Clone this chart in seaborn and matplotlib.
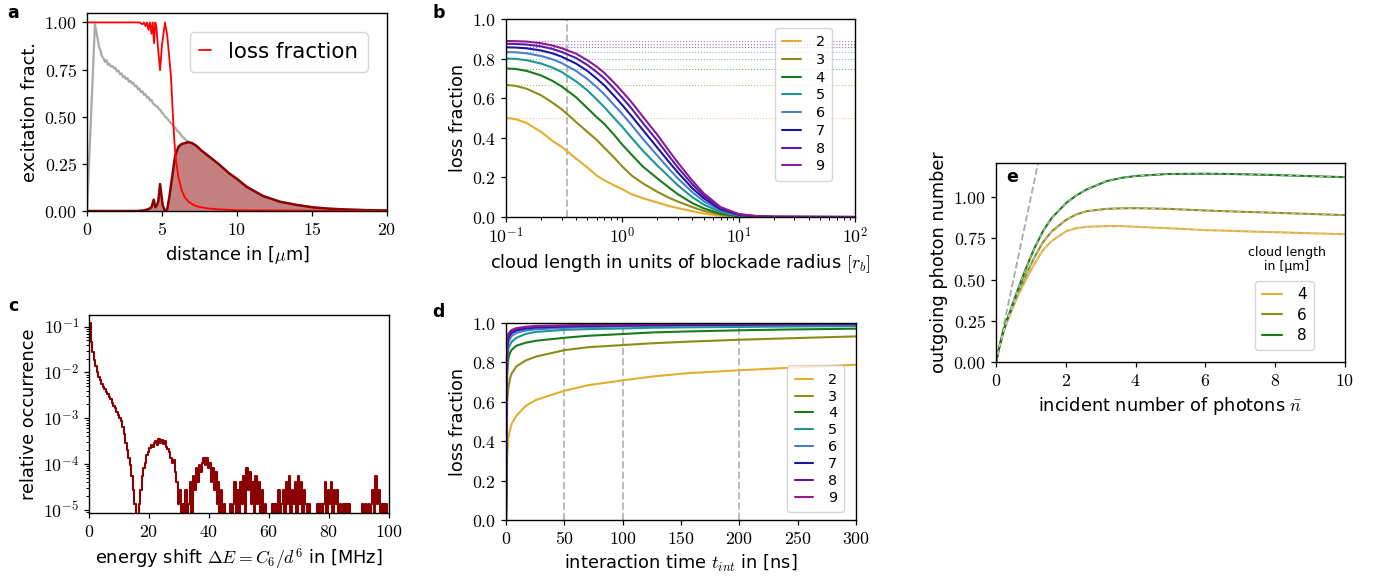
import numpy as np
import pandas as pd
import matplotlib
matplotlib.use("Agg")
import matplotlib.pyplot as plt
from matplotlib.ticker import FuncFormatter, FixedLocator, LogLocator, NullFormatter
import seaborn as sns

# ---------------- panel a: excitation / loss vs distance ----------------
grey_dist = [0, 0.53, 0.6, 0.7, 0.8, 0.9, 1.0, 1.1, 1.2, 1.3, 1.4, 1.5, 1.6, 1.7, 1.8,
             1.9, 2.0, 2.1, 2.2, 2.3, 2.4, 2.5, 2.6, 2.7, 2.8, 2.9, 3.0, 3.1, 3.2, 3.3,
             3.4, 3.5, 3.6, 3.7, 3.8, 3.9, 4.0, 4.1, 4.2, 4.3, 4.4, 4.5, 4.6, 4.7, 4.8,
             4.9, 5.0, 5.1, 5.2, 5.3, 5.4, 5.5, 5.6, 5.7, 5.8, 5.9, 6.0, 6.1, 6.2, 6.3,
             6.4, 6.5, 6.6, 6.8, 7.0, 7.3, 7.64, 8.2, 8.76, 9.5, 10.0, 10.65, 11.75,
             12.87, 13.98, 15.09, 16.2, 17.3, 18.4, 20.0]
grey_frac = [0, 0.99, 0.96, 0.92, 0.87, 0.85, 0.82, 0.81, 0.79, 0.80, 0.775, 0.78,
             0.765, 0.77, 0.755, 0.76, 0.74, 0.745, 0.725, 0.73, 0.71, 0.715, 0.70,
             0.705, 0.685, 0.69, 0.675, 0.68, 0.66, 0.665, 0.645, 0.65, 0.63, 0.635,
             0.615, 0.62, 0.60, 0.605, 0.585, 0.59, 0.57, 0.565, 0.555, 0.555, 0.54,
             0.535, 0.52, 0.515, 0.50, 0.495, 0.485, 0.475, 0.465, 0.46, 0.445, 0.44,
             0.425, 0.42, 0.41, 0.40, 0.39, 0.385, 0.375, 0.365, 0.355, 0.343, 0.32,
             0.285, 0.25, 0.198, 0.17, 0.128, 0.079, 0.049, 0.032, 0.019, 0.012,
             0.008, 0.005, 0.003]

loss_dist = [0, 3.5, 3.7, 3.8, 3.9, 4.0, 4.1, 4.2, 4.3, 4.38, 4.47, 4.55, 4.62, 4.75,
             4.87, 5.0, 5.2, 5.35, 5.5, 5.6, 5.7, 5.8, 5.9, 6.09, 6.31, 6.5, 6.76,
             7.1, 7.4, 8.0, 8.76, 10.0, 20.0]
loss_frac = [1.0, 1.0, 0.99, 1.0, 0.98, 1.0, 0.96, 1.0, 0.94, 1.0, 0.89, 1.0, 0.98,
             0.85, 0.746, 0.88, 1.0, 0.93, 0.8, 0.71, 0.55, 0.40, 0.29, 0.18, 0.11,
             0.075, 0.05, 0.032, 0.023, 0.014, 0.009, 0.004, 0.0]

kept_dist = [0, 3.3, 3.8, 4.1, 4.3, 4.45, 4.55, 4.65, 4.75, 4.87, 5.05, 5.2, 5.35,
             5.5, 5.64, 5.87, 6.09, 6.3, 6.53, 6.75, 7.0, 7.3, 7.64, 8.2, 8.76, 9.5,
             10.0, 10.65, 11.75, 12.87, 13.98, 15.09, 16.2, 17.3, 18.4, 19.9, 20.0]
kept_frac = [0, 0, 0.003, 0.01, 0.02, 0.06, 0.02, 0.03, 0.05, 0.143, 0.03, 0.0, 0.01,
             0.08, 0.16, 0.29, 0.34, 0.355, 0.36, 0.365, 0.36, 0.345, 0.32, 0.285,
             0.25, 0.198, 0.17, 0.128, 0.079, 0.049, 0.032, 0.019, 0.012, 0.008,
             0.005, 0.003, 0.003]

# ---------------- panels b and d: loss fraction per photon number ----------------
photon_numbers = [2, 3, 4, 5, 6, 7, 8, 9]
photon_colors = ["#e5ad30", "#8c8c17", "#1b7a1b", "#1f9595", "#4a7fd0",
                 "#18189e", "#5a1aa8", "#8f1a93"]

cloud_length_rb = [0.1, 0.12, 0.15, 0.2, 0.25, 0.3, 0.4, 0.5, 0.6, 0.7, 0.85, 1.0,
                   1.2, 1.5, 2.0, 2.5, 3.0, 4.0, 5.0, 7.0, 10.0, 15.0, 20.0, 100.0]
loss_vs_length = {
    2: [0.50, 0.495, 0.475, 0.43, 0.385, 0.355, 0.295, 0.25, 0.21, 0.185, 0.16, 0.14,
        0.115, 0.095, 0.073, 0.056, 0.045, 0.029, 0.017, 0.007, 0.002, 0.0005, 0.0002, 0.0],
    3: [0.667, 0.663, 0.648, 0.615, 0.578, 0.545, 0.48, 0.43, 0.39, 0.35, 0.30, 0.255,
        0.21, 0.17, 0.127, 0.098, 0.078, 0.05, 0.031, 0.012, 0.003, 0.0008, 0.0003, 0.0],
    4: [0.75, 0.748, 0.738, 0.715, 0.688, 0.66, 0.605, 0.55, 0.505, 0.47, 0.415, 0.365,
        0.315, 0.255, 0.195, 0.15, 0.115, 0.07, 0.044, 0.017, 0.005, 0.001, 0.0004, 0.0],
    5: [0.80, 0.799, 0.792, 0.775, 0.755, 0.733, 0.685, 0.64, 0.595, 0.555, 0.50, 0.455,
        0.40, 0.335, 0.26, 0.205, 0.16, 0.10, 0.063, 0.025, 0.007, 0.0015, 0.0005, 0.0],
    6: [0.833, 0.832, 0.827, 0.813, 0.797, 0.778, 0.738, 0.697, 0.657, 0.62, 0.565, 0.52,
        0.465, 0.395, 0.31, 0.245, 0.195, 0.125, 0.08, 0.032, 0.009, 0.002, 0.0006, 0.0],
    7: [0.857, 0.856, 0.852, 0.841, 0.827, 0.81, 0.775, 0.738, 0.70, 0.665, 0.612, 0.565,
        0.51, 0.44, 0.35, 0.28, 0.225, 0.145, 0.095, 0.039, 0.011, 0.0025, 0.0008, 0.0],
    8: [0.875, 0.874, 0.871, 0.862, 0.849, 0.834, 0.803, 0.768, 0.733, 0.70, 0.648, 0.602,
        0.548, 0.475, 0.385, 0.31, 0.25, 0.165, 0.108, 0.045, 0.013, 0.003, 0.001, 0.0],
    9: [0.889, 0.888, 0.886, 0.878, 0.866, 0.853, 0.825, 0.792, 0.76, 0.728, 0.678, 0.633,
        0.58, 0.507, 0.415, 0.337, 0.275, 0.183, 0.12, 0.05, 0.015, 0.0035, 0.0012, 0.0],
}
asymptotes = [0.5, 0.667, 0.75, 0.8, 0.833, 0.857, 0.875, 0.889]
blockade_marker = 1 / 3

interaction_ns = [0, 0.5, 1, 2, 3.5, 5, 9, 17, 26, 50, 70, 100, 125, 155, 200, 240, 270, 300]
loss_vs_time = {
    2: [0, 0.12, 0.33, 0.415, 0.46, 0.49, 0.53, 0.58, 0.61, 0.656, 0.684, 0.709, 0.728, 0.745, 0.76, 0.772, 0.78, 0.788],
    3: [0, 0.35, 0.60, 0.67, 0.72, 0.745, 0.78, 0.81, 0.83, 0.862, 0.877, 0.888, 0.897, 0.905, 0.915, 0.922, 0.927, 0.932],
    4: [0, 0.45, 0.74, 0.82, 0.85, 0.865, 0.885, 0.90, 0.91, 0.925, 0.935, 0.944, 0.952, 0.957, 0.963, 0.967, 0.969, 0.971],
    5: [0, 0.5, 0.82, 0.87, 0.89, 0.905, 0.925, 0.945, 0.955, 0.965, 0.969, 0.972, 0.976, 0.978, 0.98, 0.982, 0.983, 0.984],
    6: [0, 0.55, 0.86, 0.90, 0.92, 0.935, 0.95, 0.962, 0.968, 0.975, 0.979, 0.982, 0.984, 0.986, 0.988, 0.989, 0.99, 0.99],
    7: [0, 0.6, 0.88, 0.92, 0.94, 0.95, 0.962, 0.972, 0.977, 0.982, 0.985, 0.987, 0.989, 0.99, 0.992, 0.993, 0.994, 0.994],
    8: [0, 0.62, 0.90, 0.935, 0.95, 0.96, 0.97, 0.978, 0.982, 0.986, 0.988, 0.99, 0.992, 0.993, 0.994, 0.995, 0.996, 0.996],
    9: [0, 0.64, 0.915, 0.945, 0.957, 0.965, 0.974, 0.981, 0.985, 0.988, 0.99, 0.992, 0.994, 0.995, 0.996, 0.997, 0.997, 0.997],
}
time_markers = [50, 100, 200]

# ---------------- panel c: histogram of pair energy shifts ----------------
bin_width_mhz = 0.5
n_samples = 75000
shift_counts = [
    9000, 3400, 2100, 1420, 1050, 760, 610, 510, 430, 370,          # 0 - 4.5
    320, 278, 248, 218, 195, 165, 142, 128, 105, 90,                # 5 - 9.5
    75, 64, 49, 34, 22, 15, 10, 7, 4, 2,                            # 10 - 14.5
    1, 0, 0, 1, 2, 4, 6, 8, 12, 14,                                 # 15 - 19.5
    17, 20, 18, 22, 24, 20, 26, 22, 25, 21,                         # 20 - 24.5
    24, 18, 16, 14, 10, 8, 9, 5, 3, 1,                              # 25 - 29.5
    2, 0, 1, 0, 2, 0, 1, 3, 0, 4,                                   # 30 - 34.5
    2, 6, 3, 7, 5, 8, 10, 7, 10, 6,                                 # 35 - 39.5
    8, 3, 6, 2, 5, 1, 3, 0, 2, 0,                                   # 40 - 44.5
    1, 0, 0, 0, 1, 0, 1, 3, 0, 2,                                   # 45 - 49.5
    0, 3, 1, 4, 0, 6, 2, 5, 1, 3,                                   # 50 - 54.5
    0, 4, 1, 3, 0, 2, 0, 1, 0, 0,                                   # 55 - 59.5
    0, 0, 1, 0, 1, 0, 2, 0, 1, 2,                                   # 60 - 64.5
    0, 3, 1, 4, 0, 2, 1, 3, 0, 4,                                   # 65 - 69.5
    1, 3, 0, 2, 1, 0, 1, 0, 0, 0,                                   # 70 - 74.5
    0, 0, 1, 0, 1, 0, 1, 3, 0, 2,                                   # 75 - 79.5
    1, 3, 0, 2, 1, 2, 0, 1, 0, 1,                                   # 80 - 84.5
    0, 1, 0, 1, 0, 0, 0, 0, 0, 0,                                   # 85 - 89.5
    0, 0, 1, 0, 1, 0, 1, 0, 1, 2,                                   # 90 - 94.5
    0, 4, 1, 2, 0, 1, 0, 1, 0, 1,                                   # 95 - 99.5
]

# ---------------- panel e: outgoing vs incident photon number ----------------
incident_photons = [0, 0.1, 0.2, 0.3, 0.4, 0.6, 0.88, 1.1, 1.35, 1.6, 2.02, 2.3, 2.6,
                    3.17, 3.6, 4.0, 4.9, 6.0, 6.8, 8.0, 10.0]
cloud_lengths_um = [4, 6, 8]
cloud_colors = ["#e5ad30", "#8c8c17", "#1b7a1b"]
outgoing_photons = {
    4: [0, 0.092, 0.172, 0.235, 0.285, 0.39, 0.51, 0.595, 0.68, 0.735, 0.794, 0.812,
        0.82, 0.824, 0.824, 0.82, 0.812, 0.80, 0.795, 0.787, 0.775],
    6: [0, 0.093, 0.176, 0.242, 0.295, 0.405, 0.54, 0.635, 0.728, 0.793, 0.864, 0.895,
        0.915, 0.929, 0.932, 0.933, 0.929, 0.919, 0.913, 0.905, 0.891],
    8: [0, 0.094, 0.178, 0.248, 0.305, 0.425, 0.58, 0.69, 0.795, 0.875, 0.966, 1.01,
        1.047, 1.097, 1.117, 1.128, 1.14, 1.142, 1.14, 1.134, 1.121],
}
linear_ref = [0, 1.3]

# ---------------- style ----------------
sns.set_theme(style="ticks", context="notebook")
plt.rcParams.update({
    "font.family": ["DejaVu Sans"],
    "mathtext.fontset": "cm",
    "font.size": 12.8,
    "axes.labelsize": 12.8,
    "xtick.labelsize": 12.8,
    "ytick.labelsize": 12.8,
    "axes.edgecolor": "black",
    "axes.linewidth": 1.0,
    "xtick.color": "black",
    "ytick.color": "black",
    "axes.labelcolor": "black",
    "text.color": "black",
    "xtick.major.size": 3.5,
    "ytick.major.size": 3.5,
    "xtick.minor.size": 2.0,
    "ytick.minor.size": 2.0,
    "xtick.major.width": 0.9,
    "ytick.major.width": 0.9,
    "xtick.minor.width": 0.7,
    "ytick.minor.width": 0.7,
    "legend.edgecolor": "0.8",
    "legend.framealpha": 0.8,
})

W, H = 1380, 583
fig = plt.figure(figsize=(W / 100, H / 100), dpi=100)


def axes_px(left, top, right, bottom):
    return fig.add_axes([left / W, 1 - bottom / H, (right - left) / W, (bottom - top) / H])


def math_fmt(decimals):
    return FuncFormatter(lambda v, p: f"${v:.{decimals}f}$")


log_fmt = FuncFormatter(lambda v, p: f"$10^{{{int(round(np.log10(v)))}}}$")


def panel_letter(x, y, s):
    fig.text(x / W, 1 - y / H, s, fontsize=12.5, fontweight="bold", va="baseline", ha="left")


# ---- a ----
ax_a = axes_px(87, 13, 387, 211)
sns.lineplot(x=grey_dist, y=grey_frac, ax=ax_a, color="#aaaaaa", lw=1.6, sort=False)
ax_a.fill_between(kept_dist, kept_frac, color="darkred", alpha=0.5, lw=0)
sns.lineplot(x=kept_dist, y=kept_frac, ax=ax_a, color="darkred", lw=1.8, sort=False)
sns.lineplot(x=loss_dist, y=loss_frac, ax=ax_a, color="red", lw=1.3, sort=False,
             label="loss fraction")
ax_a.set_xlim(0, 20)
ax_a.set_ylim(0, 1.05)
ax_a.xaxis.set_major_locator(FixedLocator([0, 5, 10, 15, 20]))
ax_a.yaxis.set_major_locator(FixedLocator([0, 0.25, 0.5, 0.75, 1.0]))
ax_a.xaxis.set_major_formatter(math_fmt(0))
ax_a.yaxis.set_major_formatter(math_fmt(2))
ax_a.set_xlabel(r"distance in [$\mu$m]")
ax_a.set_ylabel("excitation fract.")
ax_a.legend(loc="upper right", fontsize=15.4, handlelength=0.55, handletextpad=0.8,
            borderaxespad=0.9, borderpad=0.45)
panel_letter(7, 18.5, "a")

# ---- b ----
ax_b = axes_px(506, 19, 855, 217)
for n, c, a in zip(photon_numbers, photon_colors, asymptotes):
    ax_b.axhline(a, color=c, ls=":", lw=0.8, alpha=0.6)
ax_b.axvline(blockade_marker, color="#bbbbbb", ls="--", lw=1.4)
for n, c in zip(photon_numbers, photon_colors):
    sns.lineplot(x=cloud_length_rb, y=loss_vs_length[n], ax=ax_b, color=c, lw=1.5, label=str(n))
ax_b.set_xscale("log")
ax_b.set_xlim(0.1, 100)
ax_b.set_ylim(0, 1)
ax_b.xaxis.set_major_locator(LogLocator(base=10, numticks=10))
ax_b.xaxis.set_minor_locator(LogLocator(base=10, subs=np.arange(2, 10), numticks=10))
ax_b.xaxis.set_major_formatter(log_fmt)
ax_b.xaxis.set_minor_formatter(NullFormatter())
ax_b.yaxis.set_major_locator(FixedLocator([0, 0.2, 0.4, 0.6, 0.8, 1.0]))
ax_b.yaxis.set_major_formatter(math_fmt(1))
ax_b.set_xlabel(r"cloud length in units of blockade radius $[r_b]$")
ax_b.set_ylabel("loss fraction")
ax_b.legend(loc="upper right", bbox_to_anchor=(0.934, 0.955), borderaxespad=0,
            fontsize=10.4, handlelength=1.3, labelspacing=0.26, handletextpad=1.0,
            borderpad=0.5)
panel_letter(433, 18.5, "b")

# ---- c ----
ax_c = axes_px(89, 315, 389, 513)
shift_edges = np.arange(len(shift_counts)) * bin_width_mhz
rel_occ = np.asarray(shift_counts, dtype=float) / n_samples
sns.lineplot(x=shift_edges, y=rel_occ, ax=ax_c, color="darkred", lw=1.5,
             drawstyle="steps-post", sort=False)
ax_c.set_yscale("log", nonpositive="clip")
ax_c.set_xlim(0, 100)
ax_c.set_ylim(8.5e-6, 0.18)
ax_c.xaxis.set_major_locator(FixedLocator([0, 20, 40, 60, 80, 100]))
ax_c.xaxis.set_major_formatter(math_fmt(0))
ax_c.yaxis.set_major_locator(LogLocator(base=10, numticks=10))
ax_c.yaxis.set_minor_locator(LogLocator(base=10, subs=np.arange(2, 10), numticks=10))
ax_c.yaxis.set_major_formatter(log_fmt)
ax_c.yaxis.set_minor_formatter(NullFormatter())
ax_c.set_xlabel(r"energy shift $\Delta E = C_6/d^6$ in [MHz]")
ax_c.set_ylabel("relative occurrence")
panel_letter(8, 311, "c")

# ---- d ----
ax_d = axes_px(506, 323, 856, 520)
for t in time_markers:
    ax_d.axvline(t, color="#bbbbbb", ls="--", lw=1.4)
for n, c in zip(photon_numbers, photon_colors):
    sns.lineplot(x=interaction_ns, y=loss_vs_time[n], ax=ax_d, color=c, lw=1.5, label=str(n))
ax_d.set_xlim(0, 300)
ax_d.set_ylim(0, 1)
ax_d.xaxis.set_major_locator(FixedLocator([0, 50, 100, 150, 200, 250, 300]))
ax_d.xaxis.set_major_formatter(math_fmt(0))
ax_d.yaxis.set_major_locator(FixedLocator([0, 0.2, 0.4, 0.6, 0.8, 1.0]))
ax_d.yaxis.set_major_formatter(math_fmt(1))
ax_d.set_xlabel(r"interaction time $t_{int}$ in [ns]")
ax_d.set_ylabel("loss fraction")
ax_d.legend(loc="lower right", bbox_to_anchor=(0.966, 0.04), borderaxespad=0,
            fontsize=10.4, handlelength=1.3, labelspacing=0.2, handletextpad=1.0,
            borderpad=0.5)
panel_letter(432, 317, "d")

# ---- e ----
ax_e = axes_px(996, 163, 1345, 362)
sns.lineplot(x=linear_ref, y=linear_ref, ax=ax_e, color="#aaaaaa", lw=1.3, ls="--")
for L, c in zip(cloud_lengths_um, cloud_colors):
    sns.lineplot(x=incident_photons, y=outgoing_photons[L], ax=ax_e, color=c, lw=1.5, label=str(L))
for L in cloud_lengths_um:
    ax_e.plot(incident_photons, outgoing_photons[L], color="#cccccc", lw=0.7, ls=(0, (4, 4)))
ax_e.set_xlim(0, 10)
ax_e.set_ylim(0, 1.207)
ax_e.xaxis.set_major_locator(FixedLocator([0, 2, 4, 6, 8, 10]))
ax_e.xaxis.set_major_formatter(math_fmt(0))
ax_e.yaxis.set_major_locator(FixedLocator([0, 0.25, 0.5, 0.75, 1.0]))
ax_e.yaxis.set_major_formatter(math_fmt(2))
ax_e.set_xlabel(r"incident number of photons $\bar{n}$")
ax_e.set_ylabel("outgoing photon number")
ax_e.legend(loc="lower right", bbox_to_anchor=(0.911, 0.06), borderaxespad=0,
            fontsize=11, handlelength=1.3, labelspacing=0.35, handletextpad=1.0,
            borderpad=0.45)
ax_e.text(0.834, 0.513, "cloud length\nin [\u00b5m]", transform=ax_e.transAxes,
          ha="center", va="center", fontsize=9, linespacing=1.1)
panel_letter(1006, 182.5, "e")

fig.savefig("out.png", dpi=100)
